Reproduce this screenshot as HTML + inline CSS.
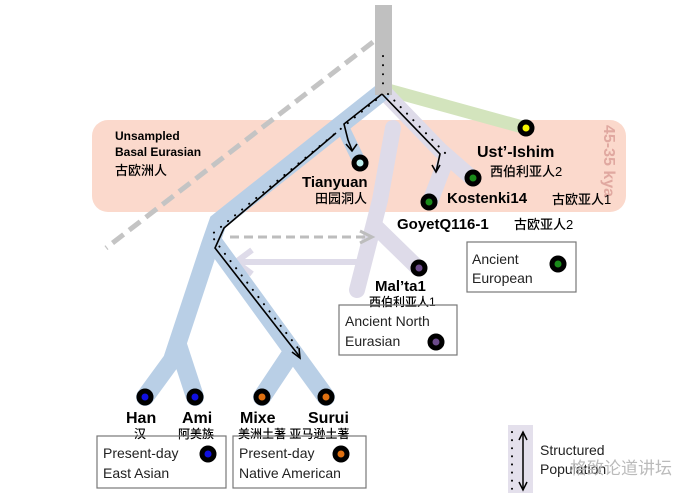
<!DOCTYPE html>
<html><head><meta charset="utf-8"><style>
body{margin:0;background:#fff;}
svg{display:block;font-family:"Liberation Sans","Noto Sans CJK SC",sans-serif;}
.b{font-weight:bold;}
.c{font-weight:500;}
</style></head><body>
<svg width="700" height="498" viewBox="0 0 700 498" xmlns="http://www.w3.org/2000/svg">
<rect x="92" y="120" width="534" height="92" rx="16" fill="#fbd9cc"/>
<text x="604" y="125" font-size="16" fill="#e0a8a0" font-weight="bold" transform="rotate(90 604 125)">45-35 kya</text>
<line x1="373" y1="42" x2="106" y2="248" stroke="#c4c4c4" stroke-width="5" stroke-dasharray="14,7"/>
<line x1="388" y1="90" x2="526" y2="128" stroke="#d3e4bd" stroke-width="13"/>
<g stroke="#dedbe9" stroke-width="16" stroke-linecap="round" fill="none">
<polyline points="386,94 440,150 472,178"/>
<line x1="446" y1="160" x2="430" y2="202"/>
<polyline points="393,128 380,200 357,290"/>
<line x1="377" y1="228" x2="418" y2="268"/>
</g>
<line x1="368" y1="262" x2="236" y2="262" stroke="#dedbe9" stroke-width="6"/>
<polyline points="252,250 236,262 252,274" fill="none" stroke="#dedbe9" stroke-width="6"/>
<g stroke="#b9cfe6" stroke-width="18" stroke-linecap="round" fill="none">
<polyline points="382,92 218,222 210,245 172,360 145,397"/>
<line x1="178" y1="345" x2="195" y2="397"/>
<polyline points="212,240 326,397"/>
<line x1="292" y1="352" x2="262" y2="397"/>
<line x1="343" y1="128" x2="360" y2="163" stroke-width="13"/>
</g>
<rect x="375" y="5" width="17" height="90" fill="#c0c0c0"/>
<line x1="230" y1="237" x2="366" y2="237" stroke="#bdbdbd" stroke-width="3" stroke-dasharray="9,5"/>
<polyline points="360,231 372,237 360,243" fill="none" stroke="#bdbdbd" stroke-width="3"/>
<g stroke="#000" stroke-width="1.6" fill="none">
<polyline points="382,94 344,124 348,140 352,150"/>
<polyline points="336,133 224,228 215,248 300,357"/>
<polyline points="382,94 440,154 436,172"/>
<polyline points="346,144 352,151 357,144"/>
<polyline points="432,165 436,172 440,165"/>
<polyline points="292,352 300,358 299,348"/>
</g>
<g stroke="#000" stroke-width="2" stroke-dasharray="0.1,9" stroke-linecap="round" fill="none">
<line x1="383" y1="56" x2="383" y2="92"/>
<polyline points="388,94 447,155"/>
<polyline points="376,100 211,235 222,250 301,352"/>
</g>
<g stroke="#000" stroke-width="5">
<circle cx="526" cy="128" r="6" fill="#f5f500"/>
<circle cx="360" cy="163" r="6" fill="#bfeff0"/>
<circle cx="473" cy="178" r="6" fill="#1a8a1a"/>
<circle cx="429" cy="202" r="6" fill="#1a8a1a"/>
<circle cx="419" cy="268" r="6" fill="#6b4a8a"/>
<circle cx="145" cy="397" r="6" fill="#1010e0"/>
<circle cx="195" cy="397" r="6" fill="#1010e0"/>
<circle cx="262" cy="397" r="6" fill="#e07010"/>
<circle cx="326" cy="397" r="6" fill="#e07010"/>
</g>
<text x="115" y="140" font-size="12" class="b">Unsampled</text>
<text x="115" y="156" font-size="12" class="b">Basal Eurasian</text>
<text x="115" y="175" font-size="13" class="c">古欧洲人</text>
<text x="302" y="187" font-size="15" class="b">Tianyuan</text>
<text x="315" y="203" font-size="13" class="c">田园洞人</text>
<text x="477" y="157" font-size="16" class="b">Ust’-Ishim</text>
<text x="490" y="176" font-size="13" class="c">西伯利亚人2</text>
<text x="447" y="203" font-size="15" class="b">Kostenki14</text>
<text x="552" y="204" font-size="13" class="c">古欧亚人1</text>
<text x="397" y="229" font-size="15" class="b">GoyetQ116-1</text>
<text x="514" y="229" font-size="13" class="c">古欧亚人2</text>
<text x="375" y="291" font-size="15" class="b">Mal’ta1</text>
<text x="369" y="306" font-size="12" class="c">西伯利亚人1</text>
<text x="126" y="423" font-size="16" class="b">Han</text>
<text x="134" y="438" font-size="12" class="c">汉</text>
<text x="182" y="423" font-size="16" class="b">Ami</text>
<text x="178" y="438" font-size="12" class="c">阿美族</text>
<text x="240" y="423" font-size="16" class="b">Mixe</text>
<text x="308" y="423" font-size="16" class="b">Surui</text>
<text x="238" y="438" font-size="12" class="c">美洲土著 亚马逊土著</text>
<g fill="none" stroke="#777" stroke-width="1.2">
<rect x="467" y="242" width="109" height="50"/>
<rect x="339" y="305" width="118" height="50"/>
<rect x="97" y="436" width="129" height="52"/>
<rect x="233" y="436" width="133" height="52"/>
</g>
<text x="472" y="264" font-size="14" fill="#222">Ancient</text>
<text x="472" y="283" font-size="14" fill="#222">European</text>
<circle cx="558" cy="264" r="6" fill="#1a8a1a" stroke="#000" stroke-width="5"/>
<text x="345" y="326" font-size="14" fill="#222">Ancient North</text>
<text x="345" y="346" font-size="14" fill="#222">Eurasian</text>
<circle cx="436" cy="342" r="6" fill="#6b4a8a" stroke="#000" stroke-width="5"/>
<text x="103" y="458" font-size="14" fill="#222">Present-day</text>
<text x="103" y="478" font-size="14" fill="#222">East Asian</text>
<circle cx="208" cy="454" r="6" fill="#1010e0" stroke="#000" stroke-width="5"/>
<text x="239" y="458" font-size="14" fill="#222">Present-day</text>
<text x="239" y="478" font-size="14" fill="#222">Native American</text>
<circle cx="341" cy="454" r="6" fill="#e07010" stroke="#000" stroke-width="5"/>
<rect x="508" y="425" width="25" height="68" fill="#e4e0ec"/>
<line x1="512" y1="432" x2="512" y2="490" stroke="#000" stroke-width="2" stroke-dasharray="0.1,8" stroke-linecap="round"/>
<line x1="523" y1="434" x2="523" y2="488" stroke="#000" stroke-width="1.5"/>
<polyline points="519,440 523,432 527,440" fill="none" stroke="#000" stroke-width="1.5"/>
<polyline points="519,482 523,490 527,482" fill="none" stroke="#000" stroke-width="1.5"/>
<text x="540" y="455" font-size="14" fill="#222">Structured</text>
<text x="540" y="474" font-size="14" fill="#222">Population</text>
<text x="570" y="474" font-size="17" fill="#bbb">格致论道讲坛</text>
</svg>
</body></html>
